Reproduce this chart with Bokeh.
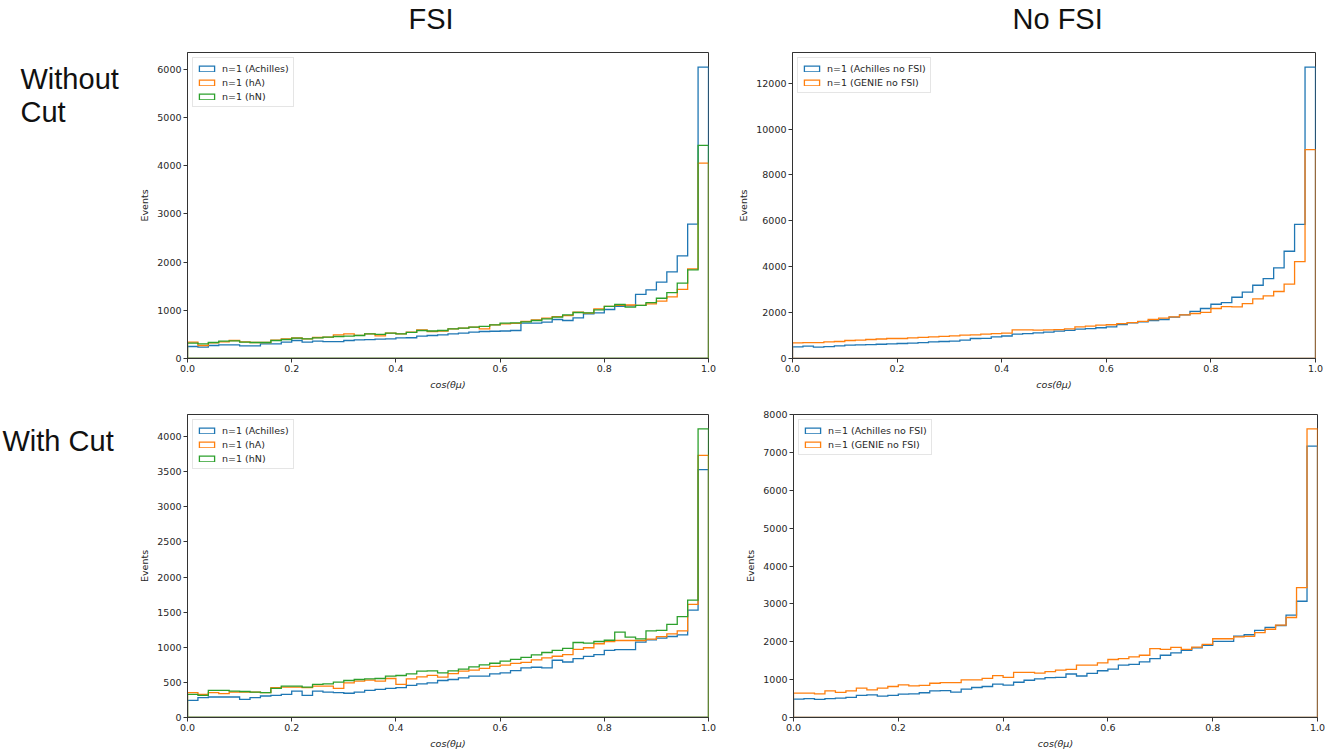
import numpy as np
from bokeh.plotting import figure
from bokeh.layouts import row, column
from bokeh.models import Range1d, FixedTicker, NumeralTickFormatter, Legend, LegendItem, Title
from bokeh.core.properties import value
from bokeh.embed import file_html
from bokeh.resources import INLINE

# ---------------- data (50 bins of cos(theta_mu) from 0 to 1) ----------------
n_bins = 50
bin_edges = np.linspace(0.0, 1.0, n_bins + 1)

tl_achilles = [249, 235, 270, 284, 284, 263, 263, 304, 304, 339,
               373, 339, 360, 350, 350, 373, 387, 390, 401, 405,
               429, 430, 463, 477, 490, 512, 526, 546, 560, 565,
               570, 581, 733, 733, 754, 809, 788, 844, 927, 947,
               1016, 1079, 1090, 1328, 1425, 1584, 1798, 2130, 2787, 6044]
tl_ha = [339, 270, 325, 345, 373, 345, 332, 332, 380, 408,
         425, 408, 436, 443, 491, 512, 480, 512, 470, 526,
         512, 546, 595, 560, 570, 615, 630, 650, 615, 698,
         720, 730, 770, 800, 837, 870, 890, 960, 940, 1030,
         1079, 1100, 1110, 1100, 1134, 1190, 1280, 1435, 1860, 4053]
tl_hn = [318, 304, 332, 360, 365, 340, 332, 332, 373, 394,
         422, 408, 429, 443, 456, 463, 477, 512, 500, 526,
         512, 540, 581, 570, 581, 615, 630, 650, 665, 698,
         733, 740, 760, 788, 820, 857, 906, 954, 947, 1010,
         1079, 1120, 1065, 1100, 1160, 1250, 1365, 1565, 1840, 4420]

tr_achilles = [508, 537, 493, 520, 551, 580, 595, 609, 620, 640,
               653, 670, 690, 726, 740, 755, 800, 871, 880, 943,
               980, 1059, 1080, 1120, 1150, 1190, 1230, 1280, 1306, 1340,
               1379, 1480, 1550, 1596, 1650, 1700, 1800, 1900, 2050, 2180,
               2365, 2438, 2670, 2890, 3193, 3483, 3948, 4673, 5849, 12700]
tr_genie = [682, 690, 690, 726, 740, 784, 800, 827, 850, 871,
            871, 900, 920, 943, 960, 987, 1016, 1030, 1059, 1088,
            1110, 1250, 1250, 1233, 1245, 1262, 1290, 1378, 1410, 1451,
            1470, 1520, 1560, 1620, 1700, 1760, 1814, 1900, 1960, 2010,
            2180, 2260, 2250, 2390, 2600, 2730, 2920, 3240, 4220, 9100]

bl_achilles = [245, 282, 292, 292, 292, 259, 282, 306, 315, 329,
               376, 315, 376, 362, 353, 345, 362, 386, 400, 414,
               424, 456, 480, 494, 527, 541, 565, 588, 588, 621,
               635, 668, 706, 715, 706, 815, 790, 838, 870, 894,
               955, 965, 965, 1073, 1106, 1129, 1153, 1176, 1529, 3529]
bl_ha = [353, 329, 353, 339, 362, 360, 362, 353, 424, 433,
         433, 424, 447, 447, 414, 494, 518, 532, 518, 555,
         471, 551, 579, 600, 575, 625, 660, 675, 700, 727,
         746, 770, 785, 820, 850, 872, 895, 970, 993, 1050,
         1080, 1096, 1096, 1096, 1115, 1150, 1190, 1233, 1610, 3732]
bl_hn = [329, 315, 386, 386, 376, 370, 362, 355, 414, 447,
         447, 433, 471, 480, 503, 527, 541, 551, 555, 588,
         598, 621, 659, 665, 636, 665, 690, 722, 750, 772,
         802, 828, 856, 892, 925, 955, 983, 1068, 1060, 1082,
         1100, 1215, 1145, 1120, 1233, 1240, 1325, 1435, 1671, 4108]

br_achilles = [487, 496, 479, 496, 513, 531, 583, 600, 565, 583,
               618, 625, 653, 705, 710, 670, 748, 792, 818, 879,
               853, 931, 983, 1018, 1053, 1060, 1148, 1096, 1166, 1235,
               1279, 1383, 1401, 1470, 1557, 1644, 1705, 1775, 1836, 1905,
               2010, 2010, 2150, 2185, 2300, 2380, 2430, 2705, 3070, 7168]
br_genie = [644, 644, 626, 705, 661, 705, 774, 731, 774, 818,
            861, 835, 850, 905, 922, 922, 992, 992, 1035, 1105,
            1061, 1192, 1192, 1174, 1209, 1253, 1270, 1383, 1383, 1444,
            1531, 1557, 1601, 1644, 1818, 1800, 1853, 1800, 1860, 1930,
            2079, 2079, 2130, 2140, 2240, 2330, 2440, 2640, 3430, 7620]

fsi_labels = ["n=1 (Achilles)", "n=1 (hA)", "n=1 (hN)"]
nofsi_labels = ["n=1 (Achilles no FSI)", "n=1 (GENIE no FSI)"]
column_titles = ["FSI", "No FSI"]
row_titles = [["Without", "Cut"], ["With Cut"]]
x_ticks = [0.0, 0.2, 0.4, 0.6, 0.8, 1.0]
tl_yticks = [0, 1000, 2000, 3000, 4000, 5000, 6000]
tr_yticks = [0, 2000, 4000, 6000, 8000, 10000, 12000]
bl_yticks = [0, 500, 1000, 1500, 2000, 2500, 3000, 3500, 4000]
br_yticks = [0, 1000, 2000, 3000, 4000, 5000, 6000, 7000, 8000]

COLORS = ["#1f77b4", "#ff7f0e", "#2ca02c"]
AX = "#333333"
TXT = "#262626"
BIG_FONT = "Liberation Sans"
SMALL_FONT = "DejaVu Sans"

# page layout (pixels)
ROW1_H, ROW2_H = 398, 358
TOP1, BOT1 = 52, 40      # row 1 borders (frames of a row are aligned)
TOP2, BOT2 = 16, 39      # row 2 borders


def step_outline(counts):
    xs = [bin_edges[0]]
    ys = [0]
    for i, c in enumerate(counts):
        xs += [bin_edges[i], bin_edges[i + 1]]
        ys += [c, c]
    xs.append(bin_edges[-1])
    ys.append(0)
    return xs, ys


def make_panel(series, labels, yticks, w, h, b_left, b_right, b_top, b_bottom,
               title=None, title_offset=0):
    ymax = 1.05 * max(max(s) for s in series)
    p = figure(width=w, height=h, x_range=Range1d(0, 1), y_range=Range1d(0, ymax),
               output_backend="svg", toolbar_location=None, title=None,
               min_border_left=b_left, min_border_right=b_right,
               min_border_top=b_top, min_border_bottom=b_bottom)
    if title is not None:
        # a blank spacer next to the frame, then the real column title above it
        p.add_layout(Title(text=" ", text_font_size="2px", standoff=14), "above")
        p.add_layout(Title(text=title, align="left", offset=title_offset,
                           text_font=BIG_FONT, text_font_size="29px",
                           text_font_style="normal", text_color="#111111",
                           standoff=0), "above")
    p.background_fill_color = "white"
    p.border_fill_color = "white"
    p.outline_line_color = AX
    p.outline_line_width = 1
    p.xgrid.visible = False
    p.ygrid.visible = False

    items = []
    for s, lab, col in zip(series, labels, COLORS):
        xs, ys = step_outline(s)
        r = p.patch(xs, ys, fill_color=None, line_color=col, line_width=1.3,
                    line_join="miter")
        items.append(LegendItem(label=lab, renderers=[r]))

    p.xaxis.ticker = FixedTicker(ticks=x_ticks)
    p.xaxis.formatter = NumeralTickFormatter(format="0.0")
    p.yaxis.ticker = FixedTicker(ticks=yticks)
    p.xaxis.axis_label = "cos(θμ)"
    p.yaxis.axis_label = "Events"
    for ax in (p.xaxis[0], p.yaxis[0]):
        ax.major_label_text_font = SMALL_FONT
        ax.major_label_text_font_size = "9.5px"
        ax.major_label_text_color = TXT
        ax.axis_label_text_font = SMALL_FONT
        ax.axis_label_text_font_size = "9.5px"
        ax.axis_label_text_color = TXT
        ax.axis_label_text_font_style = "normal"
        ax.major_tick_in = 0
        ax.major_tick_out = 4
        ax.minor_tick_line_color = None
        ax.major_tick_line_color = AX
        ax.axis_line_color = AX
        ax.major_label_standoff = 2
        ax.axis_label_standoff = 4
    p.xaxis.axis_label_text_font_style = "italic"

    leg = Legend(items=items, location="top_left", margin=5, padding=4, spacing=2,
                 glyph_width=19, glyph_height=7, label_height=12, label_standoff=6,
                 label_text_font=SMALL_FONT, label_text_font_size="9.5px",
                 label_text_color=TXT, border_line_color="#cccccc",
                 border_line_width=1, background_fill_alpha=0.8)
    p.add_layout(leg)
    return p


def label_panel(w, h, page_top, page_bottom):
    # the frame of this figure is aligned with its row neighbours; its y range is
    # expressed in page pixels so that the row titles sit where they should
    p = figure(width=w, height=h, x_range=Range1d(0, w),
               y_range=Range1d(page_bottom, page_top),
               output_backend="svg", toolbar_location=None, min_border=0,
               x_axis_type=None, y_axis_type=None)
    p.outline_line_color = None
    p.xgrid.visible = False
    p.ygrid.visible = False
    p.border_fill_color = "white"
    return p


# row labels
lab1 = label_panel(120, ROW1_H, TOP1, ROW1_H - BOT1)
lab1.text(x=[20, 20], y=[78, 111], text=row_titles[0], text_baseline="middle",
          text_align="left", text_font=value(BIG_FONT), text_font_size="29px",
          text_color="#111111")
lab2 = label_panel(120, ROW2_H, ROW1_H + TOP2, ROW1_H + ROW2_H - BOT2)
lab2.text(x=[2], y=[440], text=row_titles[1], text_baseline="middle",
          text_align="left", text_font=value(BIG_FONT), text_font_size="29px",
          text_color="#111111")

tl = make_panel([tl_achilles, tl_ha, tl_hn], fsi_labels, tl_yticks,
                608, ROW1_H, 67, 20, TOP1, BOT1, title=column_titles[0], title_offset=221)
tr = make_panel([tr_achilles, tr_genie], nofsi_labels, tr_yticks,
                597, ROW1_H, 64, 10, TOP1, BOT1, title=column_titles[1], title_offset=220)
bl = make_panel([bl_achilles, bl_ha, bl_hn], fsi_labels, bl_yticks,
                608, ROW2_H, 67, 20, TOP2, BOT2)
br = make_panel([br_achilles, br_genie], nofsi_labels, br_yticks,
                597, ROW2_H, 65, 8, TOP2, BOT2)

layout = column(row(lab1, tl, tr, spacing=0), row(lab2, bl, br, spacing=0), spacing=0)

with open("out.html", "w") as f:
    f.write(file_html(layout, INLINE))
